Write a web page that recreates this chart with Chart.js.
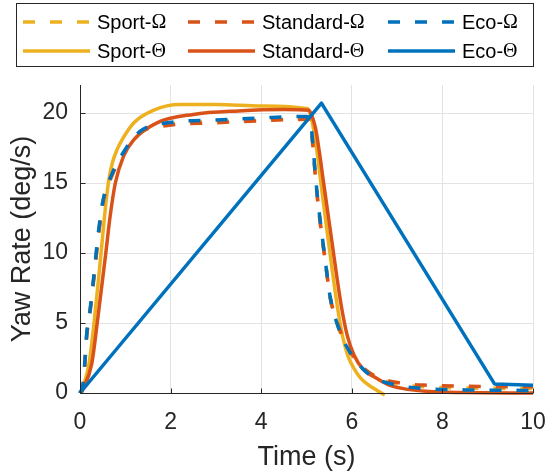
<!DOCTYPE html>
<html>
<head>
<meta charset="utf-8">
<script src="https://cdn.jsdelivr.net/npm/chart.js@4.4.0/dist/chart.umd.min.js"></script>
<style>
  body { margin: 0; background: #fff; }
  #wrap { width: 546px; height: 476px; position: relative; }
</style>
</head>
<body>
<div id="wrap"><canvas id="yawChart"></canvas></div>
<script>
// Axis ticks
const xTicks = [0, 2, 4, 6, 8, 10];
const yTicks = [0, 5, 10, 15, 20];

// Omega (dashed) runs share one time base
const omegaTime = [0, 0.07, 0.11, 0.15, 0.22, 0.3, 0.41, 0.51, 0.7, 0.96, 1.33, 1.93, 3, 4, 5, 5.08, 5.14, 5.2, 5.27, 5.35, 5.44, 5.52, 5.67, 5.89, 6.22, 6.52, 7.1, 7.7, 8.5, 9.3, 10];
const sportOmega = [0, 0.6, 2.3, 4.2, 5.8, 8.1, 11.4, 13.7, 15.5, 17.1, 18.6, 19.2, 19.4, 19.5, 19.6, 19.4, 17.7, 15.3, 13.0, 10.9, 8.7, 6.8, 5.0, 3.3, 1.8, 1.1, 0.6, 0.42, 0.36, 0.33, 0.32];
const standardOmega = [0, 0.6, 2.2, 4.1, 5.7, 8.0, 11.3, 13.6, 15.5, 17.1, 18.6, 19.1, 19.3, 19.45, 19.55, 19.35, 17.7, 15.3, 13.1, 11.0, 8.8, 6.9, 5.1, 3.4, 1.9, 1.2, 0.7, 0.55, 0.48, 0.45, 0.45];
const ecoOmega = [0, 0.7, 2.4, 4.3, 5.9, 8.2, 11.6, 13.8, 15.6, 17.2, 18.7, 19.3, 19.5, 19.65, 19.75, 19.5, 17.8, 15.4, 13.2, 11.1, 8.8, 6.9, 5.0, 3.3, 1.8, 1.05, 0.5, 0.3, 0.22, 0.2, 0.18];

// Theta (solid) runs
const sportThetaTime = [0.03, 0.2, 0.31, 0.42, 0.5, 0.57, 0.64, 0.72, 0.82, 0.95, 1.19, 1.63, 2.2, 3.0, 4.0, 5.03, 5.1, 5.17, 5.25, 5.33, 5.42, 5.51, 5.6, 5.7, 5.8, 5.92, 6.07, 6.2, 6.37, 6.55, 6.73];
const sportTheta = [0, 2.1, 5.0, 8.5, 11.2, 13.5, 15.3, 16.5, 17.4, 18.2, 19.3, 20.2, 20.6, 20.6, 20.5, 20.3, 19.7, 18.6, 16.8, 14.7, 12.4, 10.2, 8.0, 5.8, 4.0, 2.6, 1.64, 1.05, 0.57, 0.2, -0.15];
const standardThetaTime = [0.03, 0.26, 0.38, 0.57, 0.66, 0.78, 0.96, 1.19, 1.7, 2.5, 3.5, 4.5, 5.05, 5.12, 5.2, 5.28, 5.37, 5.47, 5.57, 5.67, 5.78, 5.9, 6.05, 6.25, 6.52, 6.8, 7.11, 7.7, 8.5, 10];
const standardTheta = [0, 2.1, 5.0, 10.0, 12.5, 15.0, 16.9, 18.1, 19.3, 19.9, 20.15, 20.25, 20.2, 19.8, 18.9, 17.3, 15.2, 12.9, 10.6, 8.3, 6.0, 4.1, 2.7, 1.7, 1.1, 0.6, 0.33, 0.1, 0.03, 0];
const ecoThetaTime = [0, 5.33, 9.15, 10];
const ecoTheta = [0, 20.7, 0.65, 0.55];

const labels = ["Sport-\u03A9", "Sport-\u0398", "Standard-\u03A9", "Standard-\u0398", "Eco-\u03A9", "Eco-\u0398"];
const colors = ["#EDB120", "#EDB120", "#D95319", "#D95319", "#0072BD", "#0072BD"];

function toPoints(ts, vs) {
  return ts.map((t, i) => ({ x: t, y: vs[i] }));
}

const series = [
  toPoints(omegaTime, sportOmega),
  toPoints(sportThetaTime, sportTheta),
  toPoints(omegaTime, standardOmega),
  toPoints(standardThetaTime, standardTheta),
  toPoints(omegaTime, ecoOmega),
  toPoints(ecoThetaTime, ecoTheta),
];

const FONT = "'Liberation Sans', Arial, sans-serif";
Chart.defaults.font.family = FONT;
Chart.defaults.color = "#262626";

// datasets listed bottom-to-top; lower order draws on top
const datasets = series.map((pts, i) => ({
  label: labels[i],
  data: pts,
  borderColor: colors[i],
  backgroundColor: colors[i],
  borderWidth: 3.5,
  borderDash: i % 2 === 0 ? [12, 15] : [],
  borderCapStyle: "butt",
  borderJoinStyle: "round",
  pointRadius: 0,
  cubicInterpolationMode: i === 5 ? "default" : "monotone",
  tension: i === 5 ? 0 : 0.4,
  order: series.length - i,
  clip: 6,
}));

// legend drawn as a 3x2 box, column by column
const legendBox = {
  id: "legendBox",
  afterDraw(chart) {
    const c = chart.ctx;
    const colX = [23, 188, 388];
    const rowY = [22, 51];
    c.save();
    c.strokeStyle = "#262626";
    c.lineWidth = 1;
    c.strokeRect(16.5, 3.5, 517, 63);
    c.textBaseline = "middle";
    chart.data.datasets.forEach((ds, i) => {
      const x0 = colX[Math.floor(i / 2)];
      const y0 = rowY[i % 2];
      c.strokeStyle = ds.borderColor;
      c.lineWidth = 3.5;
      c.setLineDash(ds.borderDash);
      c.beginPath();
      c.moveTo(x0, y0);
      c.lineTo(x0 + 67, y0);
      c.stroke();
      c.setLineDash([]);
      const name = ds.label.slice(0, -1);
      const sym = ds.label.slice(-1);
      c.fillStyle = "#000";
      c.font = "20px " + FONT;
      c.fillText(name, x0 + 74, y0 + 1);
      const w = c.measureText(name).width;
      c.font = "20px 'Liberation Serif', serif";
      c.fillText(sym, x0 + 74 + w, y0 + 1);
    });
    c.restore();
  },
};

// left/bottom axis lines with inward ticks
const axisFrame = {
  id: "axisFrame",
  afterDatasetsDraw(chart) {
    const { ctx, chartArea: a, scales } = chart;
    ctx.save();
    ctx.strokeStyle = "#262626";
    ctx.lineWidth = 1;
    ctx.beginPath();
    const bx = Math.round(a.left) + 0.5;
    const by = Math.round(a.bottom) + 0.5;
    ctx.moveTo(bx, a.top);
    ctx.lineTo(bx, by);
    ctx.lineTo(a.right, by);
    xTicks.forEach((v) => {
      const px = Math.round(scales.x.getPixelForValue(v)) + 0.5;
      ctx.moveTo(px, by);
      ctx.lineTo(px, by - 5);
    });
    yTicks.forEach((v) => {
      const py = Math.round(scales.y.getPixelForValue(v)) + 0.5;
      ctx.moveTo(bx, py);
      ctx.lineTo(bx + 5, py);
    });
    ctx.stroke();
    ctx.restore();
  },
};

const config = {
  type: "line",
  data: { datasets: datasets },
  options: {
    responsive: true,
    maintainAspectRatio: false,
    animation: false,
    layout: { padding: { top: 85, right: 13, left: 0, bottom: 0 } },
    plugins: {
      legend: { display: false },
      tooltip: { enabled: false },
    },
    scales: {
      x: {
        type: "linear",
        min: 0,
        max: 10,
        afterBuildTicks: (s) => { s.ticks = xTicks.map((v) => ({ value: v })); },
        afterFit: (s) => { s.height = 83; s.paddingLeft = 0; s.paddingRight = 0; },
        grid: { color: "#e3e3e3", drawTicks: false },
        border: { display: false },
        ticks: { font: { size: 23 }, padding: 16, color: "#262626", maxRotation: 0 },
        title: { display: true, text: "Time (s)", font: { size: 27 }, color: "#262626", padding: { top: 0, bottom: 2 } },
      },
      y: {
        type: "linear",
        min: 0,
        max: 22,
        afterBuildTicks: (s) => { s.ticks = yTicks.map((v) => ({ value: v })); },
        afterFit: (s) => { s.width = 80; },
        grid: { color: "#e3e3e3", drawTicks: false },
        border: { display: false },
        ticks: { font: { size: 23 }, padding: 12, color: "#262626" },
        title: { display: true, text: "Yaw Rate (deg/s)", font: { size: 27 }, color: "#262626", padding: { top: 6, bottom: 0 } },
      },
    },
  },
  plugins: [axisFrame, legendBox],
};

const myChart = new Chart(document.getElementById("yawChart"), config);
</script>
</body>
</html>
